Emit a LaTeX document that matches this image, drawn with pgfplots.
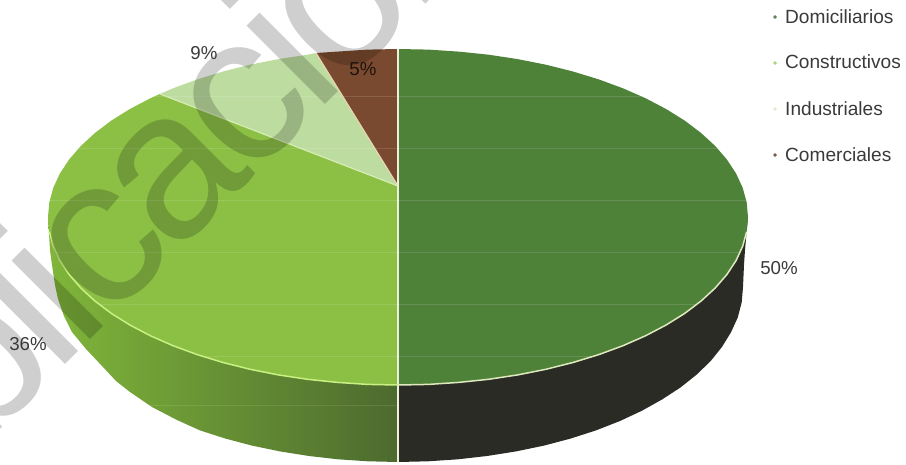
\documentclass[border=0pt]{standalone}
\usepackage{fontspec}
\setmainfont{Liberation Sans}
\newfontfamily\wmfont[LetterSpace=-5]{Liberation Sans}
\usepackage{pgfplots}
\pgfplotsset{compat=1.18}
\definecolor{dom}{HTML}{4F8239}
\definecolor{con}{HTML}{8CC045}
\definecolor{ind}{HTML}{BDDDA0}
\definecolor{com}{HTML}{7A4A30}
\definecolor{txt}{HTML}{3A3A3A}
\begin{document}
\begin{tikzpicture}[x=1pt,y=1pt]
\useasboundingbox (0,0) rectangle (906,464);
\begin{axis}[at={(0pt,0pt)},anchor=south west,scale only axis,width=906pt,height=464pt,
  xmin=0,xmax=906,ymin=0,ymax=464,y dir=reverse,axis lines=none,clip=true]
% side walls
\addplot[draw=none,left color={rgb,255:red,128;green,182;blue,58},right color={rgb,255:red,76;green,106;blue,46}] coordinates {
 (48,217)(50,250)(52,265)(55,285)(58,299)(64,316)(72,332)(86,349)(103,367)(116,381)(130,392)(152,407)(177,420)(200,430.4)(225.5,438.6)(252,445.6)(280,451.4)(309,456)(338,459.3)(368,461.3)(398,462)(398,217)};
\addplot[draw=none,fill={rgb,255:red,42;green,43;blue,36}] coordinates {
 (398,462)(428,461.3)(458,459.3)(487,456)(516,451.4)(544,445.6)(570.5,438.6)(596,430.4)(620,421)(642,410.7)(662,399.5)(680.6,387.4)(696.8,374.5)(710.7,361)(722,346.9)(731,332.3)(737.8,317.4)(741.7,302.3)(743,287)(744,265)(745,250)(748,217)(398,217)};
% Domiciliarios
\addplot[draw=none,fill=dom] coordinates {
 (398,186)(398,49)(428.5,49.6)(458.8,51.6)(488.6,54.7)(517.7,59.1)(545.9,64.7)(573,71.5)(598.8,79.4)(623,88.3)(645.5,98.2)(666.1,109)(684.7,120.6)(701.1,133)(715.2,146)(726.9,159.5)(736.1,173.5)(742.7,187.8)(746.7,202.4)(748,217)
 (746.7,231.6)(742.7,246.2)(736.1,260.5)(726.9,274.5)(715.2,288)(701.1,301)(684.7,313.4)(666.1,325)(645.5,335.8)(623,345.7)(598.8,354.6)(573,362.5)(545.9,369.3)(517.7,374.9)(488.6,379.3)(458.8,382.4)(428.5,384.4)(398,385)};
% Constructivos
\addplot[draw=none,fill=con] coordinates {
 (398,186)(398,385)(367.5,384.4)(337.2,382.4)(307.4,379.3)(278.3,374.9)(250.1,369.3)(223,362.5)(197.2,354.6)(173,345.7)(150.5,335.8)(129.9,325)(111.3,313.4)(94.9,301)(80.8,288)(69.1,274.5)(59.9,260.5)(53.3,246.2)(49.3,231.6)(48,217)
 (49.3,202.4)(53.3,187.8)(59.9,173.5)(69.1,159.5)(80.8,146)(94.9,133)(111.3,120.6)(129.9,109)(150.5,98.2)(160,94)};
% Industriales
\addplot[draw=none,fill=ind] coordinates {
 (398,186)(160,94)(173,88.3)(197.2,79.4)(223,71.5)(250.1,64.7)(278.3,59.1)(307.4,54.7)(316,53)};
% Comerciales
\addplot[draw=none,fill=com] coordinates {
 (398,186)(316,53)(337.2,51.6)(367.5,49.6)(398,49)};
% faint scan lines
\addplot[white,opacity=.12,line width=1pt] coordinates {(155,96)(641,96)};
\addplot[white,opacity=.12,line width=1pt] coordinates {(79,148)(717,148)};
\addplot[white,opacity=.12,line width=1pt] coordinates {(50,200)(746,200)};
\addplot[white,opacity=.12,line width=1pt] coordinates {(56,252)(740,252)};
\addplot[white,opacity=.12,line width=1pt] coordinates {(99,304)(697,304)};
\addplot[white,opacity=.12,line width=1pt] coordinates {(201,356)(595,356)};
\addplot[white,opacity=.10,line width=1pt] coordinates {(135,405)(398,405)};
% slice edges
\addplot[color={rgb,255:red,214;green,236;blue,180},line width=1.2pt] coordinates {(398,186)(160,94)};
\addplot[color={rgb,255:red,232;green,214;blue,180},line width=1.2pt] coordinates {(398,186)(316,53)};
\addplot[color={rgb,255:red,238;green,240;blue,220},line width=1.1pt] coordinates {(398,49)(398,462)};
% front rim
\addplot[color={rgb,255:red,200;green,240;blue,130},line width=1.5pt] coordinates {
 (49.3,231.6)(53.3,246.2)(59.9,260.5)(69.1,274.5)(80.8,288)(94.9,301)(111.3,313.4)(129.9,325)(150.5,335.8)(173,345.7)(197.2,354.6)(223,362.5)(250.1,369.3)(278.3,374.9)(307.4,379.3)(337.2,382.4)(367.5,384.4)(398,385)};
\addplot[color={rgb,255:red,222;green,234;blue,190},line width=1.5pt] coordinates {
 (398,385)(428.5,384.4)(458.8,382.4)(488.6,379.3)(517.7,374.9)(545.9,369.3)(573,362.5)(598.8,354.6)(623,345.7)(645.5,335.8)(666.1,325)(684.7,313.4)(701.1,301)(715.2,288)(726.9,274.5)(736.1,260.5)(742.7,246.2)(746.7,231.6)};
% legend markers
\addplot[only marks,mark=*,mark size=1.5pt,color=dom!70!gray] coordinates {(775,17)};
\addplot[only marks,mark=*,mark size=1.5pt,color=con!70!white] coordinates {(775,63)};
\addplot[only marks,mark=*,mark size=1.5pt,color=ind!50!white] coordinates {(775,109)};
\addplot[only marks,mark=*,mark size=1.5pt,color=com!70!gray] coordinates {(775,155)};
% watermark
\node[overlay,anchor=base,rotate=45,inner sep=0pt,opacity=.19,text=black,font=\wmfont\fontsize{210}{210}\selectfont] at (axis cs:156,274) {Publicación};
% legend text
\begin{scope}[every node/.style={anchor=west,inner sep=0pt,text=txt,font=\fontsize{19.1}{20}\selectfont}]
\node at (axis cs:785,17) {Domiciliarios};
\node at (axis cs:785,62) {Constructivos};
\node at (axis cs:785,109) {Industriales};
\node at (axis cs:785,155) {Comerciales};
\end{scope}
% percentages
\begin{scope}[every node/.style={anchor=center,inner sep=0pt,text=txt,font=\fontsize{18.7}{20}\selectfont}]
\node at (axis cs:204,53) {9\%};
\node[text=black!75!com] at (axis cs:363,69) {5\%};
\node at (axis cs:28,344) {36\%};
\node at (axis cs:779,268) {50\%};
\end{scope}
\end{axis}
\end{tikzpicture}
\end{document}
